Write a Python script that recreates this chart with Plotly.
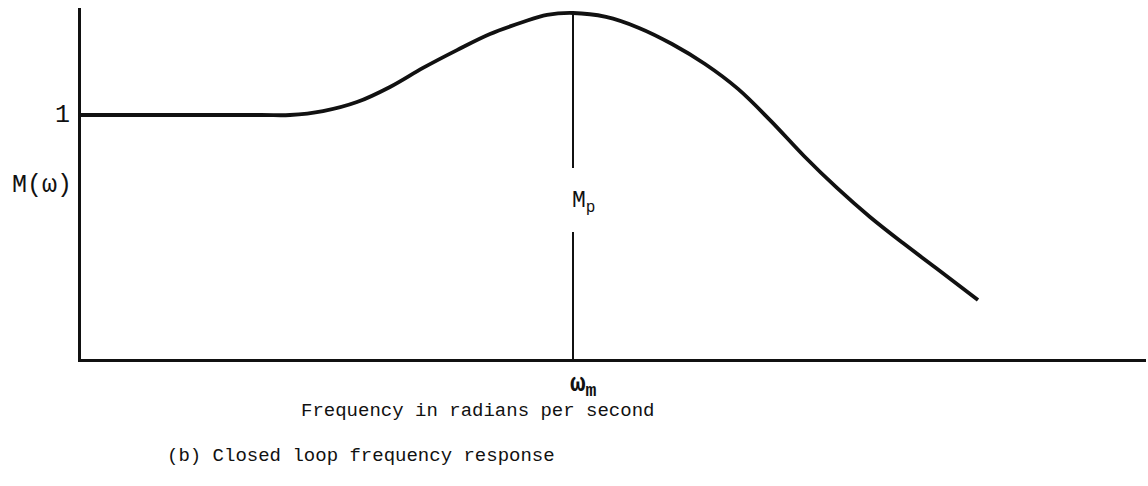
import plotly.graph_objects as go

# Closed-loop magnitude M(w) against frequency (arbitrary frequency units)
freq = [0.0, 1.8, 2.09, 2.42, 2.76, 3.09, 3.42, 3.76, 4.09, 4.42, 4.66, 4.92,
        5.25, 5.58, 5.91, 6.24, 6.57, 6.90, 7.23, 7.56, 7.89, 8.22, 8.55, 8.97]
magnitude = [1.0, 1.0, 1.0, 1.016, 1.053, 1.115, 1.193, 1.266, 1.332, 1.381, 1.410, 1.418,
             1.402, 1.357, 1.291, 1.209, 1.107, 0.975, 0.832, 0.701, 0.582, 0.475, 0.373, 0.242]

# Resonant frequency and peak magnitude
omega_m = 4.92
M_p = 1.418
# Gap left in the resonance marker line for its label
label_gap = (0.52, 0.783)

FONT = "Liberation Mono, Courier New, monospace"
INK = "#111111"

fig = go.Figure()

fig.add_trace(go.Scatter(
    x=freq, y=magnitude, mode="lines",
    line=dict(color=INK, width=3.8, shape="spline", smoothing=1.0),
    hoverinfo="skip", showlegend=False,
))

# Vertical marker at the resonant peak, broken around the M_p label
fig.add_trace(go.Scatter(
    x=[omega_m, omega_m, None, omega_m, omega_m],
    y=[0, label_gap[0], None, label_gap[1], M_p],
    mode="lines", line=dict(color=INK, width=2),
    hoverinfo="skip", showlegend=False,
))

fig.update_xaxes(range=[0, 10.65], showline=True, linecolor=INK, linewidth=3,
                 showgrid=False, zeroline=False, showticklabels=False, ticks="")
fig.update_yaxes(range=[0, 1.4385], showline=True, linecolor=INK, linewidth=3,
                 showgrid=False, zeroline=False, showticklabels=False, ticks="")

annotations = [
    dict(x=0, y=1, xref="x", yref="y", text="1", xanchor="right", yanchor="middle",
         xshift=-9, font=dict(size=25)),
    dict(x=0, y=0.71, xref="x", yref="y", text="M(ω)", xanchor="right", yanchor="middle",
         xshift=-7, font=dict(size=25)),
    dict(x=omega_m, y=(label_gap[0] + label_gap[1]) / 2, xref="x", yref="y",
         text="M<sub>p</sub>", xanchor="center", yanchor="middle", xshift=10, yshift=-2,
         font=dict(size=23)),
    dict(x=omega_m, y=0, xref="x", yref="y", text="<b>ω</b><sub><b>m</b></sub>",
         xanchor="center", yanchor="top", xshift=10, yshift=-8, font=dict(size=26)),
    dict(x=0.372, y=-0.148, xref="paper", yref="paper", text="Frequency in radians per second",
         xanchor="center", yanchor="middle", font=dict(size=19)),
    dict(x=0.079, y=-0.276, xref="paper", yref="paper", text="(b) Closed loop frequency response",
         xanchor="left", yanchor="middle", font=dict(size=19)),
]
for a in annotations:
    a["showarrow"] = False
    a["font"].update(family=FONT, color=INK)

fig.update_layout(
    width=1148, height=486,
    margin=dict(l=81, r=2, t=8, b=127),
    paper_bgcolor="white", plot_bgcolor="white",
    annotations=annotations,
    font=dict(family=FONT, color=INK),
)

fig.write_html("out.html")
